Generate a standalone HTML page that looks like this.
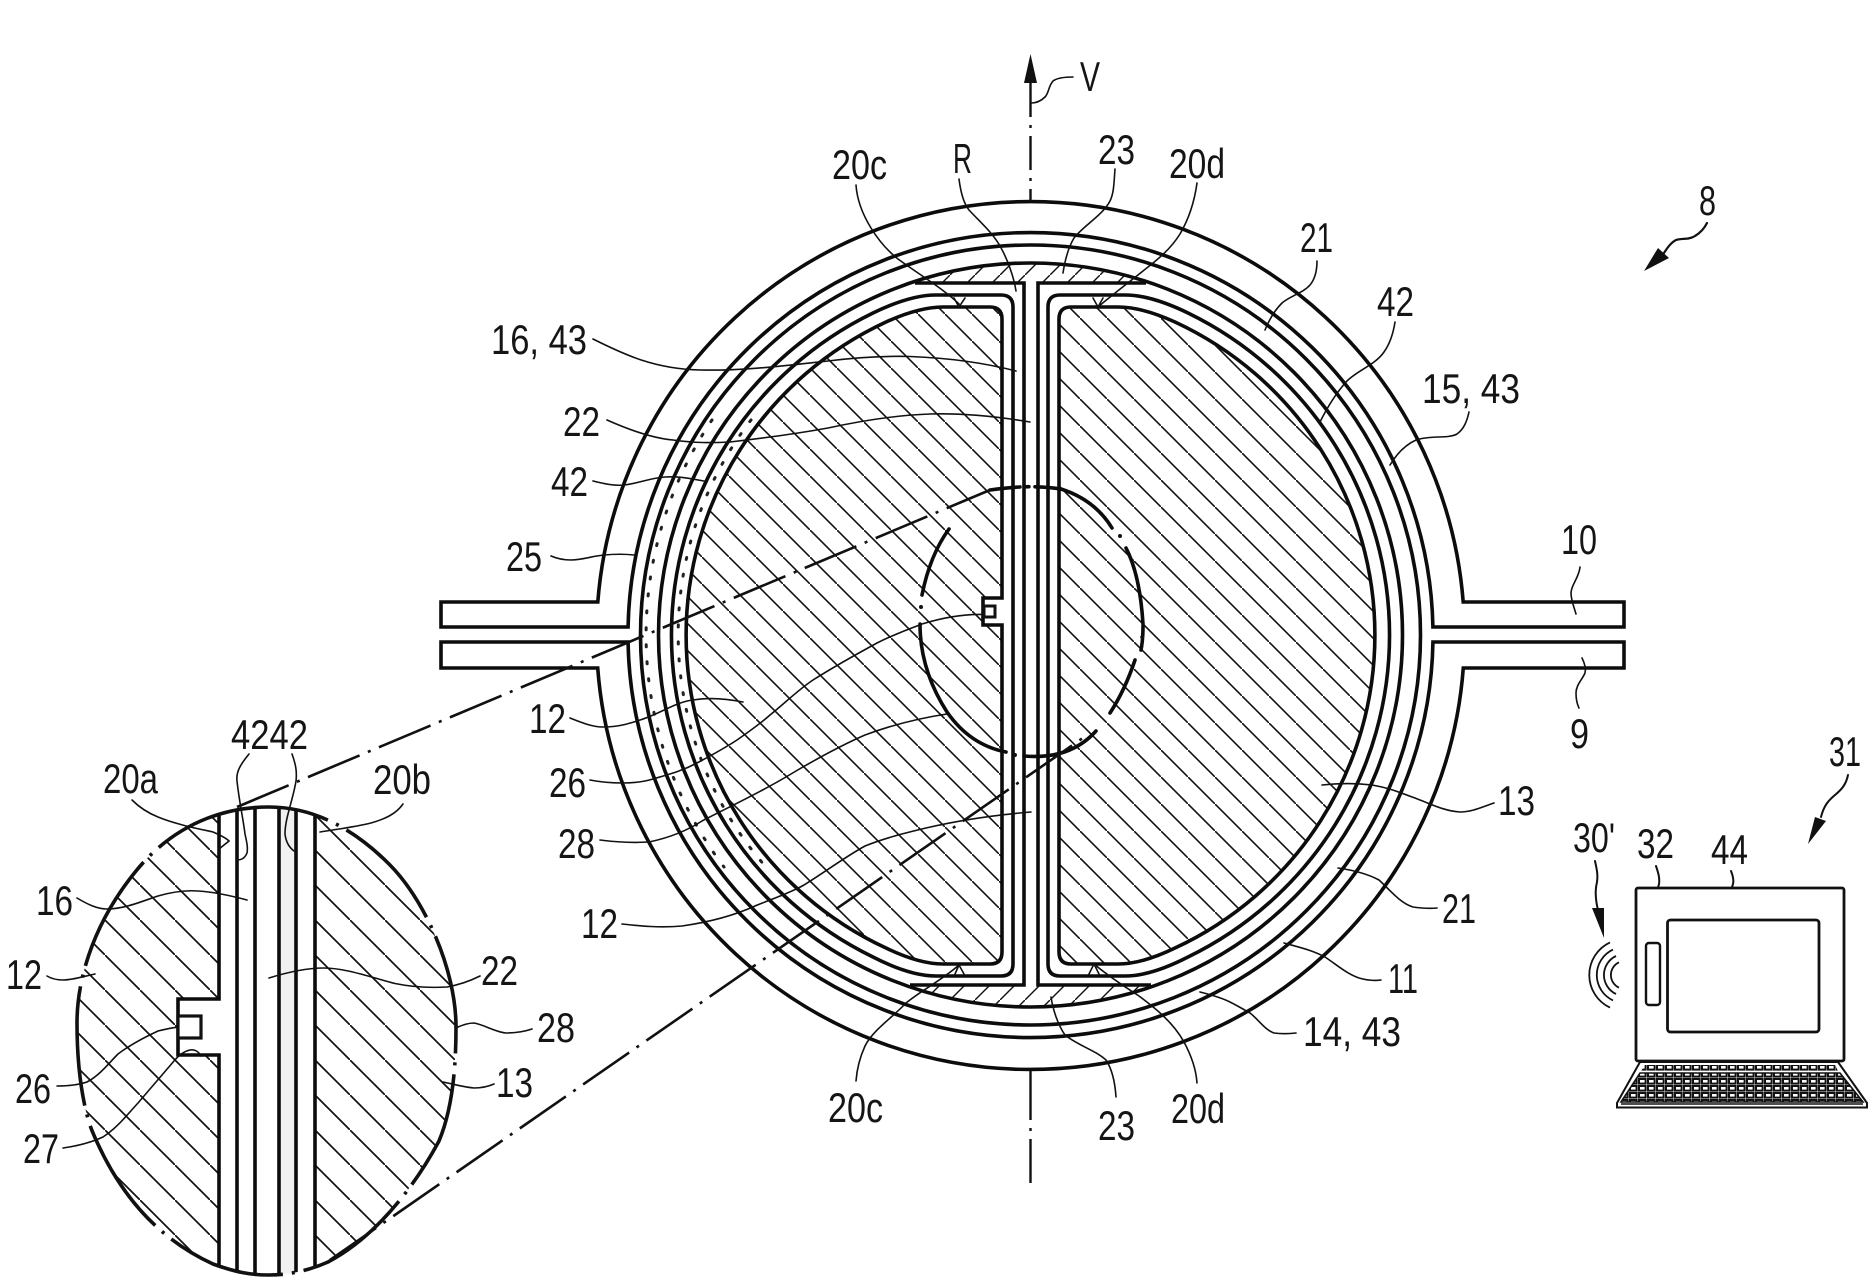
<!DOCTYPE html>
<html><head><meta charset="utf-8"><style>
html,body{margin:0;padding:0;background:#fff}
svg{display:block}
text{font-family:"Liberation Sans",sans-serif;font-size:42px;fill:#151515}
.l{fill:none;stroke:#111;stroke-width:1.6;stroke-linecap:round}
.m{fill:none;stroke:#0c0c0c;stroke-width:3.6}
.d{fill:none;stroke:#111;stroke-width:2.6;stroke-dasharray:56 9 3 9}
.h{fill:none;stroke:#0c0c0c;stroke-width:3.6;stroke-linecap:round}
.p{fill:none;stroke:#222;stroke-width:3;stroke-dasharray:2 15;stroke-linecap:round}
</style></head><body>
<svg xmlns="http://www.w3.org/2000/svg" width="1876" height="1278" viewBox="0 0 1876 1278">
<defs>
<pattern id="hl" patternUnits="userSpaceOnUse" width="27" height="27" patternTransform="translate(0,17)"><path d="M-1 -1L28 28" stroke="#111" stroke-width="1.6"/></pattern>
<pattern id="hr" patternUnits="userSpaceOnUse" width="27" height="27" patternTransform="translate(0,21)"><path d="M-1 -1L28 28" stroke="#111" stroke-width="1.6"/></pattern>
<pattern id="hd" patternUnits="userSpaceOnUse" width="35" height="35" patternTransform="translate(0,10)"><path d="M-1 -1L36 36" stroke="#111" stroke-width="1.7"/></pattern>
<pattern id="hb" patternUnits="userSpaceOnUse" width="25" height="25"><path d="M-1 26L26 -1" stroke="#111" stroke-width="1.4"/></pattern>
<pattern id="kb" patternUnits="userSpaceOnUse" width="9" height="7"><rect width="9" height="7" fill="#fff"/><rect x="1" y="1" width="6.6" height="4.6" fill="#fff" stroke="#111" stroke-width="2"/></pattern>
<clipPath id="oval"><path d="M269 807C210 807 165 835 136 871C100 915 77 970 77 1023C77 1075 85 1115 93 1133C115 1185 150 1235 213 1264C235 1272 250 1275 269 1275C290 1275 310 1270 328 1262C370 1240 410 1195 439 1141C452 1110 456 1070 456 1027C456 970 425 900 389 864C355 830 315 807 269 807Z"/></clipPath>
</defs>
<rect width="1876" height="1278" fill="#fff"/>

<!-- hatched D sections -->
<path d="M1059 319Q1059 307 1071 307H1118Q1142 307 1175 322A345 345 0 0 1 1175 948Q1142 964 1118 964H1071Q1059 964 1059 952Z" fill="url(#hr)"/>
<path d="M1002 319Q1002 307 990 307H943Q919 307 886 322A345 345 0 0 0 886 948Q919 964 943 964H990Q1002 964 1002 952V625H983V598H1002Z" fill="url(#hl)"/>
<path d="M913 283A371 371 0 0 1 1148 283Z" fill="url(#hb)"/>
<path d="M907 985A371 371 0 0 0 1154 985Z" fill="url(#hb)"/>

<!-- housing and flanges -->
<path class="m" d="M441 602H597.8A434 434 0 0 1 1463.2 602H1624V627H1432.92A402.5 402.5 0 0 0 628.08 627H441Z"/>
<path class="m" d="M441 642H628.06A402.5 402.5 0 0 0 1432.94 642H1624V668H1463.28A434 434 0 0 1 597.72 668H441Z"/>
<circle class="m" cx="1030.5" cy="635" r="390"/>
<circle class="m" cx="1030.5" cy="635" r="372"/>

<!-- rounded D contours -->
<path class="m" d="M1048 307Q1048 295 1060 295H1125Q1151 295 1188 313A358 358 0 0 1 1188 957Q1151 976 1125 976H1060Q1048 976 1048 964Z"/>
<path class="m" d="M1013 307Q1013 295 1001 295H936Q910 295 873 313A358 358 0 0 0 873 957Q910 976 936 976H1001Q1013 976 1013 964Z"/>
<path class="m" d="M1059 319Q1059 307 1071 307H1118Q1142 307 1175 322A345 345 0 0 1 1175 948Q1142 964 1118 964H1071Q1059 964 1059 952Z"/>
<path class="m" d="M1002 319Q1002 307 990 307H943Q919 307 886 322A345 345 0 0 0 886 948Q919 964 943 964H990Q1002 964 1002 952V625H983V598H1002Z"/>
<rect x="984" y="606" width="11" height="11" fill="#fff" stroke="#111" stroke-width="3"/>

<!-- central web and plates -->
<path class="m" d="M915 283H1024V985H910"/>
<path class="m" d="M1146 283H1038V985H1151"/>

<!-- dotted band on left -->
<path class="p" d="M712 420A384 384 0 0 0 724 867"/>
<path class="p" d="M751 420A352 352 0 0 0 766 867"/>

<!-- axis -->
<path d="M1030.5 54L1037 83H1024Z" fill="#111"/>
<path class="d" style="stroke-dasharray:34 8 3 8;stroke-width:2.4" d="M1030.5 83V201"/>
<path class="d" style="stroke-dasharray:50 8 3 8;stroke-width:2.4" d="M1030.5 1070V1183"/>

<!-- detail circle in main view -->
<path class="h" d="M949 529Q930 555 922 595"/>
<circle cx="921" cy="607" r="2" fill="#111"/>
<path class="h" d="M920 624Q920 670 947 712Q970 745 1006 752"/>
<circle cx="1015" cy="755" r="2" fill="#111"/>
<path class="h" d="M1024 756Q1070 760 1096 731"/>
<path class="h" d="M1110 713Q1125 690 1135 660"/>
<path class="h" d="M1141 650Q1143 640 1143 626"/>
<circle cx="1142" cy="637" r="1.8" fill="#111"/>
<path class="h" d="M1143 624Q1140 575 1126 548"/>
<circle cx="1120" cy="536" r="2" fill="#111"/>
<path class="h" d="M1112 528Q1095 500 1061 489"/>
<path class="h" stroke-dasharray="30 6 3 6" d="M990 490Q1030 484 1061 489"/>

<!-- projection lines -->
<path class="d" d="M237 807L990 490"/>
<path class="d" d="M330 1260L1090 733"/>

<!-- enlarged detail -->
<g clip-path="url(#oval)">
<path d="M60 790H219V999H178V1055H219V1290H60Z" fill="url(#hd)"/>
<path d="M315 790H470V1290H315Z" fill="url(#hd)"/>
<rect x="279" y="800" width="17" height="480" fill="#f1f1f1"/>
<path class="m" d="M219 800V999H178V1055H219V1280"/>
<rect x="178" y="1016" width="23" height="22" fill="#fff" stroke="#111" stroke-width="3.2"/>
<path class="m" d="M237 800V1280"/>
<path class="m" d="M255 800V1280"/>
<path class="m" d="M279 800V1280"/>
<path class="m" d="M296 800V1280"/>
<path class="m" d="M315 800V1280"/>
</g>
<path fill="none" stroke="#111" stroke-width="3.6" stroke-dasharray="120 9 3 9" d="M269 807C210 807 165 835 136 871C100 915 77 970 77 1023C77 1075 85 1115 93 1133C115 1185 150 1235 213 1264C235 1272 250 1275 269 1275C290 1275 310 1270 328 1262C370 1240 410 1195 439 1141C452 1110 456 1070 456 1027C456 970 425 900 389 864C355 830 315 807 269 807Z"/>

<!-- main leaders -->
<path class="l" d="M856 185C858 215 880 245 898 259C920 275 945 290 959 304M954 298L959 307L965 298"/>
<path class="l" d="M959 179C961 195 965 205 969 210C980 222 992 232 1000 246C1008 260 1014 278 1016 291"/>
<path class="l" d="M593 339C625 355 655 369 700 370C745 371 790 365 828 361C860 357 890 356 910 356.5C950 358 985 363 1016 371"/>
<path class="l" d="M607 420C625 428 650 438 673 440C695 443 710 443 730 442C765 438 795 434 828 428C865 420 900 415 930 414C965 413 1000 417 1030 422"/>
<path class="l" d="M593 481C605 484 615 486 624 485C640 483 650 478 665 477C680 476 692 479 704 481"/>
<path class="l" d="M551 556C558 559 565 560 571 560C583 560 592 556 604 555C615 554 625 554 634 555"/>
<path class="l" d="M570 718C580 722 592 727 603 727C618 727 628 724 640 720C660 714 675 702 693 700C710 697 728 699 743 702"/>
<path class="l" d="M590 780C600 782 612 783 623 783C635 783 643 782 653 779C670 774 682 771 697 763C712 755 725 748 737 740C750 731 760 724 770 715C785 703 798 690 813 680C832 668 855 655 877 643C895 634 907 630 922 624C945 617 965 614 983 614.5"/>
<path class="l" d="M600 840C615 842 632 843 649 842C668 838 685 832 702 821C733 805 765 790 796 771C820 757 842 745 865 735C892 725 920 718 947 714"/>
<path class="l" d="M622 924C640 926 660 928 682 926C710 922 733 916 755 906C772 899 790 893 804 885C825 872 845 857 865 846C885 838 905 833 926 828C960 820 995 815 1031 812"/>
<path class="l" d="M1494 803C1482 807 1472 812 1460 812C1445 811 1433 805 1420 800C1404 794 1390 788 1372 785C1355 783 1340 783 1322 785"/>
<path class="l" d="M1437 908C1428 909 1420 908 1413 907C1400 903 1390 890 1379 880C1366 873 1352 870 1338 868"/>
<path class="l" d="M1381 980C1374 981 1366 980 1359 978C1347 974 1337 965 1325 957C1312 950 1298 947 1284 943"/>
<path class="l" d="M1296 1033C1288 1034 1281 1034 1274 1033C1265 1030 1258 1019 1250 1013C1243 1009 1236 1005 1230 1002C1222 998 1212 995 1200 992"/>
<path class="l" d="M1582 658C1585 664 1586 669 1585 673C1582 680 1576 685 1576 693C1576 699 1577 704 1579 708"/>
<path class="l" d="M1580 567C1579 578 1571 585 1571 593C1571 600 1574 607 1576 614"/>
<path class="l" d="M1115 169C1114 182 1114 193 1110 201C1103 215 1083 226 1074 238C1068 248 1065 260 1063 273"/>
<path class="l" d="M1197 183C1194 205 1187 222 1180 234C1170 250 1157 260 1143 271C1128 283 1112 295 1098 307M1093 298L1098 307L1103 298"/>
<path class="l" d="M1317 261C1317 270 1315 279 1310 285C1303 293 1290 296 1282 303C1275 310 1269 320 1265 330"/>
<path class="l" d="M1395 322C1393 335 1389 345 1384 352C1375 365 1358 370 1347 381C1336 393 1327 408 1320 422"/>
<path class="l" d="M1469 412C1467 421 1464 429 1457 434C1448 439 1431 435 1416 440C1405 445 1396 455 1390 465"/>
<path class="l" d="M1073 77C1065 77 1057 78 1053 81C1048 87 1049 93 1045 97C1041 101 1036 103 1031 103"/>
<path class="l" d="M856 1081C857 1068 860 1057 865 1046C873 1030 892 1018 906 1003C922 990 942 980 959 965L955 974M959 965L964 974"/>
<path class="l" d="M1116 1097C1115 1082 1112 1069 1106 1060C1095 1050 1077 1045 1065 1035C1058 1025 1053 1010 1051 997"/>
<path class="l" d="M1197 1083C1196 1068 1191 1055 1184 1042C1173 1022 1155 1008 1139 996C1122 985 1107 975 1094 964L1089 974M1094 964L1099 974"/>
<!-- detail leaders -->
<path class="l" d="M249 754C240 765 236 772 237 781C239 800 243 818 245 834C247 843 248 848 247 853C245 858 241 860 237 860"/>
<path class="l" d="M292 754C296 765 297 772 296 781C293 800 285 818 285 834C286 843 290 848 294 851"/>
<path class="l" d="M132 800C140 808 148 813 158 817C175 824 195 828 213 832C220 835 226 838 229 841L219 849"/>
<path class="l" d="M403 804C396 814 385 819 371 823C355 827 338 829 320 832"/>
<path class="l" d="M77 898C87 904 97 909 107 909C124 909 140 902 158 896C172 892 185 890 198 891C215 892 232 896 247 900"/>
<path class="l" d="M47 976C52 979 58 980 63 980C73 980 85 976 95 974"/>
<path class="l" d="M480 976C470 981 458 985 447 987C430 988 412 987 395 983.5C370 977 345 968 324 968C305 968 285 973 269 978"/>
<path class="l" d="M532 1029C523 1032 515 1033 506 1033C495 1032 485 1025 474 1023C468 1023 463 1025 458 1027"/>
<path class="l" d="M494 1084C487 1087 481 1088 474 1088C463 1087 453 1084 443 1082"/>
<path class="l" d="M57 1086C67 1086 78 1085 87 1082C100 1075 108 1064 118 1054C130 1045 145 1037 158 1031C165 1029 172 1028 178 1027"/>
<path class="l" d="M63 1148C77 1146 90 1143 103 1137C117 1128 127 1115 138 1103C150 1089 162 1075 174 1061C179 1055 185 1051 190 1050C195 1049 199 1052 201 1056"/>
<!-- arrows -->
<path class="l" style="stroke-width:2.2" d="M1707 223C1704 229 1700 233 1695 236C1689 240 1682 238 1676 240C1670 243 1666 250 1662 256"/>
<path class="l" style="stroke-width:2" d="M1595 861C1597 870 1598 875 1597 882C1595 890 1595 898 1598 910"/>
<path class="l" style="stroke-width:2" d="M1848 775C1846 785 1841 790 1835 795C1829 800 1824 805 1821 817"/>
<path class="l" style="stroke-width:2" d="M1656 866C1658 872 1660 878 1659 884C1657 893 1651 901 1651 911C1651 921 1652 931 1652 942"/>
<path class="l" style="stroke-width:2" d="M1731 871C1733 876 1734 880 1733 884C1731 892 1725 900 1724.5 908C1724.5 912 1725 916 1725.5 920"/>
<path d="M1644 271L1658 248L1669 258Z" fill="#111"/>
<path d="M1604 938L1592 908L1604 908Z" fill="#111"/>
<path d="M1808 844L1815 817L1826 821Z" fill="#111"/>

<!-- computer -->
<rect x="1636" y="888" width="208" height="173" rx="2" fill="#fff" stroke="#111" stroke-width="2.8"/>
<rect x="1667.5" y="920" width="151.5" height="112" rx="3" fill="#fff" stroke="#111" stroke-width="2.8"/>
<rect x="1646" y="943" width="14" height="62" rx="3" fill="#fff" stroke="#111" stroke-width="2.4"/>
<path d="M1610 942.4A36 36 0 0 0 1610 1007.6M1613 949.6A28 28 0 0 0 1613 1000.4M1616 956A21 21 0 0 0 1616 994M1619 962.3A14 14 0 0 0 1619 987.7" fill="none" stroke="#111" stroke-width="1.8"/>
<path d="M1640 1062H1838L1867 1103V1107.5H1617V1103Z" fill="#fff" stroke="#111" stroke-width="2"/>
<path d="M1645 1065H1835L1838 1071H1641Z" fill="url(#kb)"/>
<path d="M1640 1073H1840L1863 1102H1621Z" fill="url(#kb)"/>
<path d="M1640 1073H1840L1863 1102H1621Z" fill="none" stroke="#111" stroke-width="1.6"/>
<path d="M1621 1104H1863" stroke="#111" stroke-width="1.4"/>

<!-- labels -->
<text x="1080" y="91" textLength="20" lengthAdjust="spacingAndGlyphs">V</text>
<text x="832" y="179" textLength="55" lengthAdjust="spacingAndGlyphs">20c</text>
<text x="953" y="173" textLength="19" lengthAdjust="spacingAndGlyphs">R</text>
<text x="1098" y="164" textLength="37" lengthAdjust="spacingAndGlyphs">23</text>
<text x="1169" y="178" textLength="56" lengthAdjust="spacingAndGlyphs">20d</text>
<text x="1699" y="215" textLength="17" lengthAdjust="spacingAndGlyphs">8</text>
<text x="1300" y="252" textLength="33" lengthAdjust="spacingAndGlyphs">21</text>
<text x="1377" y="316" textLength="37" lengthAdjust="spacingAndGlyphs">42</text>
<text x="491" y="354" textLength="96" lengthAdjust="spacingAndGlyphs">16, 43</text>
<text x="1422" y="403" textLength="98" lengthAdjust="spacingAndGlyphs">15, 43</text>
<text x="563" y="436" textLength="37" lengthAdjust="spacingAndGlyphs">22</text>
<text x="551" y="496" textLength="37" lengthAdjust="spacingAndGlyphs">42</text>
<text x="506" y="571" textLength="36" lengthAdjust="spacingAndGlyphs">25</text>
<text x="1561" y="554" textLength="36" lengthAdjust="spacingAndGlyphs">10</text>
<text x="1570" y="748" textLength="19" lengthAdjust="spacingAndGlyphs">9</text>
<text x="529" y="733" textLength="37" lengthAdjust="spacingAndGlyphs">12</text>
<text x="549" y="797" textLength="37" lengthAdjust="spacingAndGlyphs">26</text>
<text x="558" y="858" textLength="37" lengthAdjust="spacingAndGlyphs">28</text>
<text x="581" y="938" textLength="37" lengthAdjust="spacingAndGlyphs">12</text>
<text x="1498" y="815" textLength="37" lengthAdjust="spacingAndGlyphs">13</text>
<text x="1442" y="923" textLength="34" lengthAdjust="spacingAndGlyphs">21</text>
<text x="1388" y="993" textLength="30" lengthAdjust="spacingAndGlyphs">11</text>
<text x="1303" y="1046" textLength="98" lengthAdjust="spacingAndGlyphs">14, 43</text>
<text x="828" y="1122" textLength="55" lengthAdjust="spacingAndGlyphs">20c</text>
<text x="1098" y="1140" textLength="37" lengthAdjust="spacingAndGlyphs">23</text>
<text x="1171" y="1123" textLength="54" lengthAdjust="spacingAndGlyphs">20d</text>
<text x="1829" y="766" textLength="32" lengthAdjust="spacingAndGlyphs">31</text>
<text x="1573" y="852" textLength="42" lengthAdjust="spacingAndGlyphs">30'</text>
<text x="1637" y="858" textLength="37" lengthAdjust="spacingAndGlyphs">32</text>
<text x="1711" y="864" textLength="37" lengthAdjust="spacingAndGlyphs">44</text>
<text x="231" y="749" textLength="77" lengthAdjust="spacingAndGlyphs">4242</text>
<text x="103" y="793" textLength="55" lengthAdjust="spacingAndGlyphs">20a</text>
<text x="373" y="794" textLength="58" lengthAdjust="spacingAndGlyphs">20b</text>
<text x="36" y="915" textLength="37" lengthAdjust="spacingAndGlyphs">16</text>
<text x="6" y="989" textLength="36" lengthAdjust="spacingAndGlyphs">12</text>
<text x="481" y="985" textLength="37" lengthAdjust="spacingAndGlyphs">22</text>
<text x="537" y="1042" textLength="38" lengthAdjust="spacingAndGlyphs">28</text>
<text x="496" y="1097" textLength="37" lengthAdjust="spacingAndGlyphs">13</text>
<text x="15" y="1103" textLength="36" lengthAdjust="spacingAndGlyphs">26</text>
<text x="23" y="1163" textLength="36" lengthAdjust="spacingAndGlyphs">27</text>
</svg>
</body></html>
